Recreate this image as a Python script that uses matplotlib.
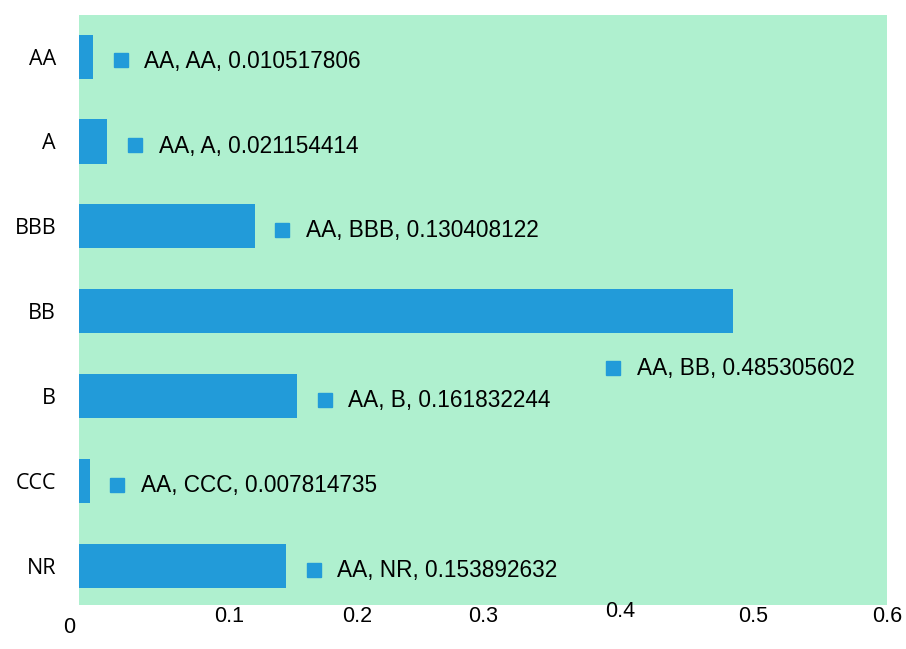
import matplotlib
matplotlib.use("Agg")
from matplotlib import pyplot as plt
from matplotlib import transforms

# rating buckets and their weights
ratings = ["AA", "A", "BBB", "BB", "B", "CCC", "NR"]
weights = [0.010517806, 0.021154414, 0.130408122, 0.485305602,
           0.161832244, 0.007814735, 0.153892632]
row_label = "AA"
xticks = [0, 0.1, 0.2, 0.3, 0.4, 0.5, 0.6]
xtick_labels = ["0", "0.1", "0.2", "0.3", "0.4", "0.5", "0.6"]

blue = "#229bd9"
green = "#aff0cf"

fig = plt.figure(figsize=(9.06, 6.49), dpi=100)
ax = fig.add_axes([79 / 906, 1 - 605 / 649, 808 / 906, 590 / 649])
ax.set_facecolor(green)
for s in ax.spines.values():
    s.set_visible(False)

y = list(range(len(ratings)))
ax.barh(y, weights, height=0.52, color=blue)
ax.set_xlim(0, 0.6)
ax.set_ylim(6.46, -0.49)

# data labels: little square + "row, col, value"
for i, (r, w) in enumerate(zip(ratings, weights)):
    mx, my = w + 0.0205, i + 0.045
    if r == "BB":
        # no room at the end of the long bar, put it underneath
        mx, my = 0.3965, i + 0.67
    ax.plot(mx, my, marker="s", markersize=9.5, color=blue, linestyle="none")
    ax.annotate("{}, {}, {}".format(row_label, r, w), (mx, my),
                xytext=(17, -0.5), textcoords="offset points",
                ha="left", va="center", fontsize=16.3,
                family=["Liberation Sans", "DejaVu Sans"])

ax.set_yticks(y)
ax.set_yticklabels(ratings, family=["Open Sans", "DejaVu Sans"], fontsize=15.5)
ax.tick_params(axis="y", length=0, pad=16.5)

# x labels sit a bit uneven under the axis
ax.set_xticks([])
xshift = [-10, 15, 9, 0, 3, 1, 0]
ydrop = [12, 1, 1, 1, -4, 1, 1]
trans = ax.get_xaxis_transform()
for v, lab, dx, dy in zip(xticks, xtick_labels, xshift, ydrop):
    off = transforms.ScaledTranslation(dx / 100, -dy / 100, fig.dpi_scale_trans)
    ax.text(v, 0, lab, transform=trans + off, ha="center", va="top",
            fontsize=15.5, family=["Liberation Sans Narrow", "Liberation Sans", "DejaVu Sans"])

plt.savefig("out.png", dpi=100)
